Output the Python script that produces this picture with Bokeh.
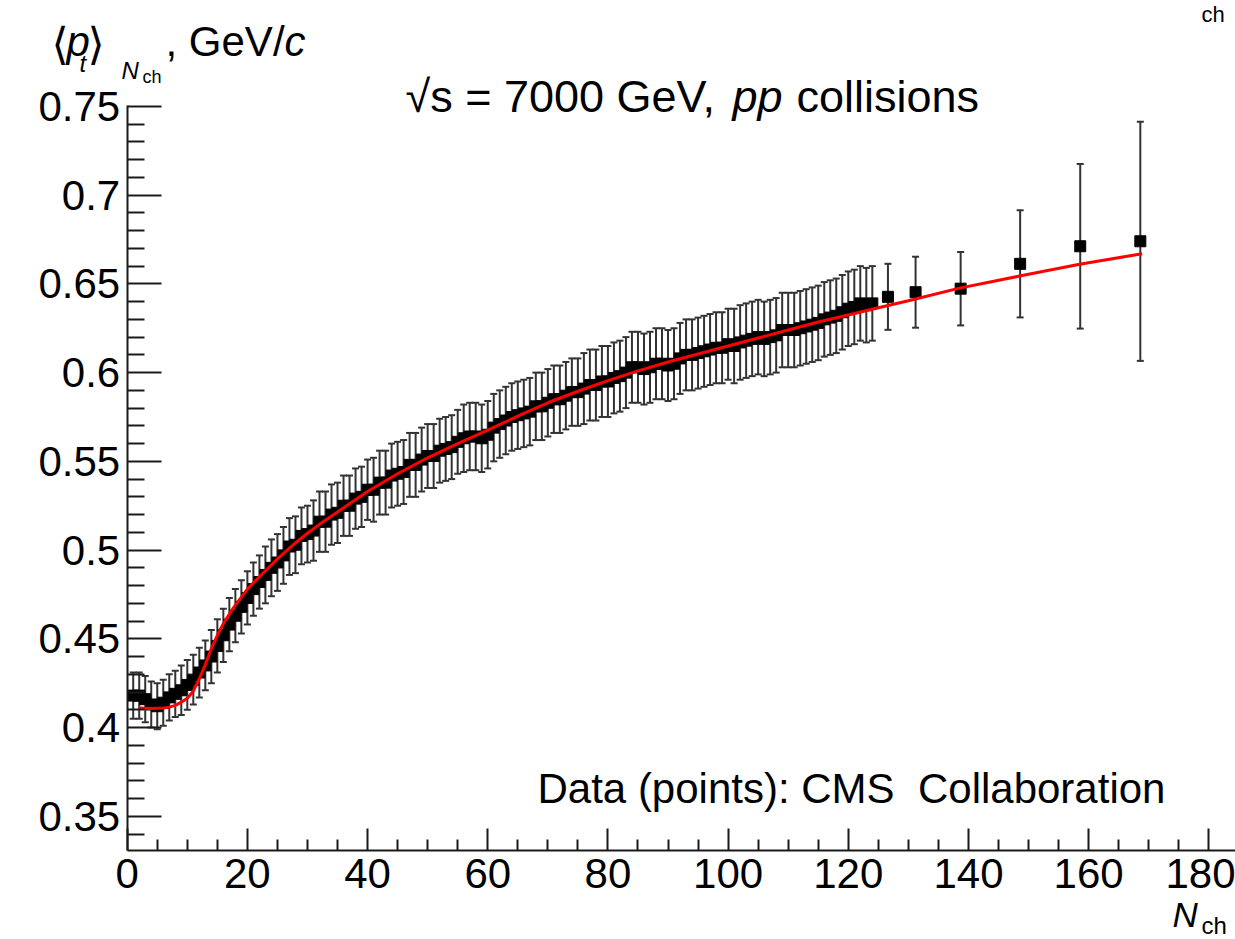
from bokeh.plotting import figure
from bokeh.models import ColumnDataSource, Whisker, TeeHead, FixedTicker, Label
from bokeh.embed import file_html
from bokeh.resources import INLINE

# ---------------- data ----------------
n_dense = list(range(1, 125))
pt_dense = [
    0.418, 0.418, 0.416, 0.413, 0.412, 0.414, 0.417, 0.419, 0.421, 0.424,
    0.427, 0.431, 0.435, 0.440, 0.446, 0.452, 0.458, 0.463, 0.468, 0.473,
    0.478, 0.482, 0.486, 0.490, 0.493, 0.497, 0.502, 0.503, 0.508, 0.509,
    0.511, 0.516, 0.516, 0.520, 0.521, 0.525, 0.525, 0.529, 0.530, 0.534,
    0.534, 0.538, 0.538, 0.542, 0.543, 0.544, 0.548, 0.548, 0.551, 0.553,
    0.553, 0.556, 0.557, 0.558, 0.561, 0.563, 0.564, 0.564, 0.563, 0.565,
    0.569, 0.571, 0.573, 0.575, 0.576, 0.577, 0.578, 0.581, 0.581, 0.583,
    0.585, 0.585, 0.587, 0.589, 0.589, 0.591, 0.593, 0.593, 0.595, 0.595,
    0.597, 0.598, 0.600, 0.603, 0.603, 0.602, 0.603, 0.605, 0.605, 0.604,
    0.605, 0.608, 0.610, 0.610, 0.611, 0.612, 0.613, 0.614, 0.614, 0.616,
    0.615, 0.617, 0.618, 0.619, 0.620, 0.619, 0.620, 0.621, 0.624, 0.624,
    0.624, 0.625, 0.626, 0.627, 0.628, 0.630, 0.631, 0.632, 0.634, 0.636,
    0.637, 0.639, 0.638, 0.639,
]
err_dense = [
    0.013, 0.013, 0.013, 0.013, 0.013, 0.013, 0.013, 0.013, 0.014, 0.014,
    0.014, 0.014, 0.014, 0.015, 0.015, 0.015, 0.015, 0.015, 0.015, 0.015,
    0.015, 0.015, 0.016, 0.016, 0.016, 0.016, 0.016, 0.016, 0.016, 0.016,
    0.017, 0.017, 0.017, 0.017, 0.017, 0.017, 0.017, 0.017, 0.017, 0.017,
    0.018, 0.018, 0.018, 0.018, 0.018, 0.018, 0.018, 0.018, 0.018, 0.018,
    0.018, 0.018, 0.018, 0.018, 0.018, 0.019, 0.019, 0.019, 0.019, 0.019,
    0.019, 0.019, 0.019, 0.019, 0.019, 0.019, 0.019, 0.019, 0.019, 0.019,
    0.019, 0.019, 0.019, 0.019, 0.019, 0.020, 0.020, 0.020, 0.020, 0.020,
    0.020, 0.020, 0.020, 0.020, 0.020, 0.020, 0.020, 0.020, 0.020, 0.020,
    0.020, 0.020, 0.020, 0.020, 0.020, 0.020, 0.020, 0.020, 0.020, 0.020,
    0.021, 0.021, 0.021, 0.021, 0.021, 0.021, 0.021, 0.021, 0.021, 0.021,
    0.021, 0.021, 0.021, 0.021, 0.021, 0.021, 0.021, 0.021, 0.021, 0.021,
    0.021, 0.021, 0.021, 0.021,
]
n_sparse = [126.6, 131.2, 138.7, 148.6, 158.6, 168.6]
pt_sparse = [0.6427, 0.6453, 0.6473, 0.6613, 0.6712, 0.6740]
err_sparse = [0.0186, 0.0200, 0.0207, 0.0302, 0.0464, 0.0674]

fit_n = [1.93, 4, 6, 7, 8, 9, 10, 11, 12, 13, 14, 15, 16, 17, 18, 20, 22, 25,
         28, 30, 32, 35, 40, 45, 50, 55, 60, 66, 70, 75, 80, 85, 90, 95, 100,
         105, 110, 115, 120, 125, 130, 138.5, 148.5, 158.5, 168.9]
fit_y = [0.4110, 0.4108, 0.4110, 0.4115, 0.4125, 0.4143, 0.4165, 0.4205,
         0.4275, 0.4355, 0.4445, 0.4520, 0.4585, 0.4640, 0.4690, 0.4780,
         0.4850, 0.4950, 0.5040, 0.5095, 0.5145, 0.5215, 0.5330, 0.5430,
         0.5520, 0.5600, 0.5676, 0.5770, 0.5830, 0.5895, 0.5955, 0.6010,
         0.6060, 0.6105, 0.6150, 0.6195, 0.6240, 0.6285, 0.6325, 0.6365,
         0.6405, 0.6476, 0.6544, 0.6611, 0.6670]

x_ticks = [0, 20, 40, 60, 80, 100, 120, 140, 160, 180]
x_minor = [5, 10, 15, 25, 30, 35, 45, 50, 55, 65, 70, 75, 85, 90, 95, 105, 110,
           115, 125, 130, 135, 145, 150, 155, 165, 170, 175]
y_ticks = [0.35, 0.4, 0.45, 0.5, 0.55, 0.6, 0.65, 0.7, 0.75]
y_labels = ["0.35", "0.4", "0.45", "0.5", "0.55", "0.6", "0.65", "0.7", "0.75"]
y_minor = [0.34, 0.36, 0.37, 0.38, 0.39, 0.41, 0.42, 0.43, 0.44, 0.46, 0.47,
           0.48, 0.49, 0.51, 0.52, 0.53, 0.54, 0.56, 0.57, 0.58, 0.59, 0.61,
           0.62, 0.63, 0.64, 0.66, 0.67, 0.68, 0.69, 0.71, 0.72, 0.73, 0.74]

# ---------------- layout (frame = whole canvas, axes pinned) ----------------
W, H = 1235, 939
PXU, X0PX = 6.009, 126.7       # px per x unit, pixel column of x = 0
PYU, Y75PX = 1774.7, 105.9     # px per y unit, pixel row of y = 0.75
AXIS_BOTTOM_PX, AXIS_TOP_PX = 850.0, 105.0
FONT = "Liberation Sans"
BASE_SHIFT = 0.33              # empirical baseline correction (fraction of em)

x_start, x_end = -X0PX / PXU, (W - X0PX) / PXU
y_start, y_end = 0.75 - (H - Y75PX) / PYU, 0.75 + Y75PX / PYU
y_axis_lo = 0.75 - (AXIS_BOTTOM_PX - Y75PX) / PYU
y_axis_hi = 0.75 - (AXIS_TOP_PX - Y75PX) / PYU


def X(px):
    return x_start + px / PXU


def Y(py):
    return y_end - py / PYU


p = figure(width=W, height=H, x_range=(x_start, x_end),
           y_range=(y_start, y_end), title=None,
           output_backend="svg", toolbar_location=None,
           min_border_left=0, min_border_right=0,
           min_border_top=0, min_border_bottom=0)
p.outline_line_color = None
p.xgrid.visible = False
p.ygrid.visible = False
p.background_fill_color = "white"
p.border_fill_color = "white"

for ax in (p.xaxis, p.yaxis):
    ax.axis_line_width = 2
    ax.axis_line_color = "#1a1a1a"
    ax.major_tick_line_width = 2
    ax.minor_tick_line_width = 2
    ax.major_tick_line_color = "#1a1a1a"
    ax.minor_tick_line_color = "#1a1a1a"
    ax.major_tick_out = 0
    ax.minor_tick_out = 0
    ax.major_label_text_font = FONT
    ax.major_label_text_font_size = "42px"
    ax.major_label_text_color = "black"

p.xaxis.ticker = FixedTicker(ticks=x_ticks, minor_ticks=x_minor)
p.xaxis.major_tick_in = 22
p.xaxis.minor_tick_in = 11
p.xaxis.major_label_standoff = 8
p.xaxis.bounds = (0, x_end)
p.xaxis.fixed_location = y_axis_lo

p.yaxis.ticker = FixedTicker(ticks=y_ticks, minor_ticks=y_minor)
p.yaxis.major_tick_in = 34
p.yaxis.minor_tick_in = 17
p.yaxis.major_label_standoff = 7
p.yaxis.major_label_overrides = {t: s for t, s in zip(y_ticks, y_labels)}
p.yaxis.bounds = (y_axis_lo, y_axis_hi)
p.yaxis.fixed_location = 0

# ---------------- data marks ----------------
all_n = n_dense + n_sparse
all_y = pt_dense + pt_sparse
all_e = err_dense + err_sparse
src = ColumnDataSource(dict(
    n=all_n, y=all_y,
    lo=[v - e for v, e in zip(all_y, all_e)],
    hi=[v + e for v, e in zip(all_y, all_e)],
))
bar_col = "#333333"
wh = Whisker(source=src, base="n", lower="lo", upper="hi", dimension="height",
             line_color=bar_col, line_width=2,
             upper_head=TeeHead(size=7, line_color=bar_col, line_width=2),
             lower_head=TeeHead(size=7, line_color=bar_col, line_width=2))
p.add_layout(wh)
p.scatter("n", "y", source=src, marker="square", size=11,
          fill_color="black", line_color="black")
p.line(fit_n, fit_y, line_color="#ff0000", line_width=3)


# ---------------- texts ----------------
def lab(text, px, py, size, italic=False, font=FONT):
    p.add_layout(Label(x=X(px), y=Y(py - BASE_SHIFT * size), text=text,
                       text_font=font, text_font_size=f"{size}px",
                       text_font_style="italic" if italic else "normal",
                       text_baseline="alphabetic", text_align="left",
                       text_color="black"))


# y-axis title  <p_t>_{N_ch}, GeV/c
lab("\u27e8", 51, 58, 44, font="DejaVu Sans")
lab("p", 66, 55, 42, italic=True)
lab("t", 79, 71, 24, italic=True)
lab("\u27e9", 87, 58, 44, font="DejaVu Sans")
lab("N", 121, 78, 24, italic=True)
lab("ch", 142, 82, 18)
lab(", GeV/", 165, 55, 42)
lab("c", 284, 55, 42, italic=True)

# title
lab("\u221as = 7000 GeV,", 405, 111, 45)
lab("pp", 732, 111, 45, italic=True)
lab("collisions", 796, 111, 45)

# data source note
lab("Data (points): CMS\u00a0 Collaboration", 537, 802, 42)

# x-axis title N_ch
lab("N", 1172, 926, 35, italic=True)
lab("ch", 1201, 933, 24)

# fragment at top right
lab("ch", 1201, 21, 22)

open("out.html", "w").write(file_html(p, INLINE))
